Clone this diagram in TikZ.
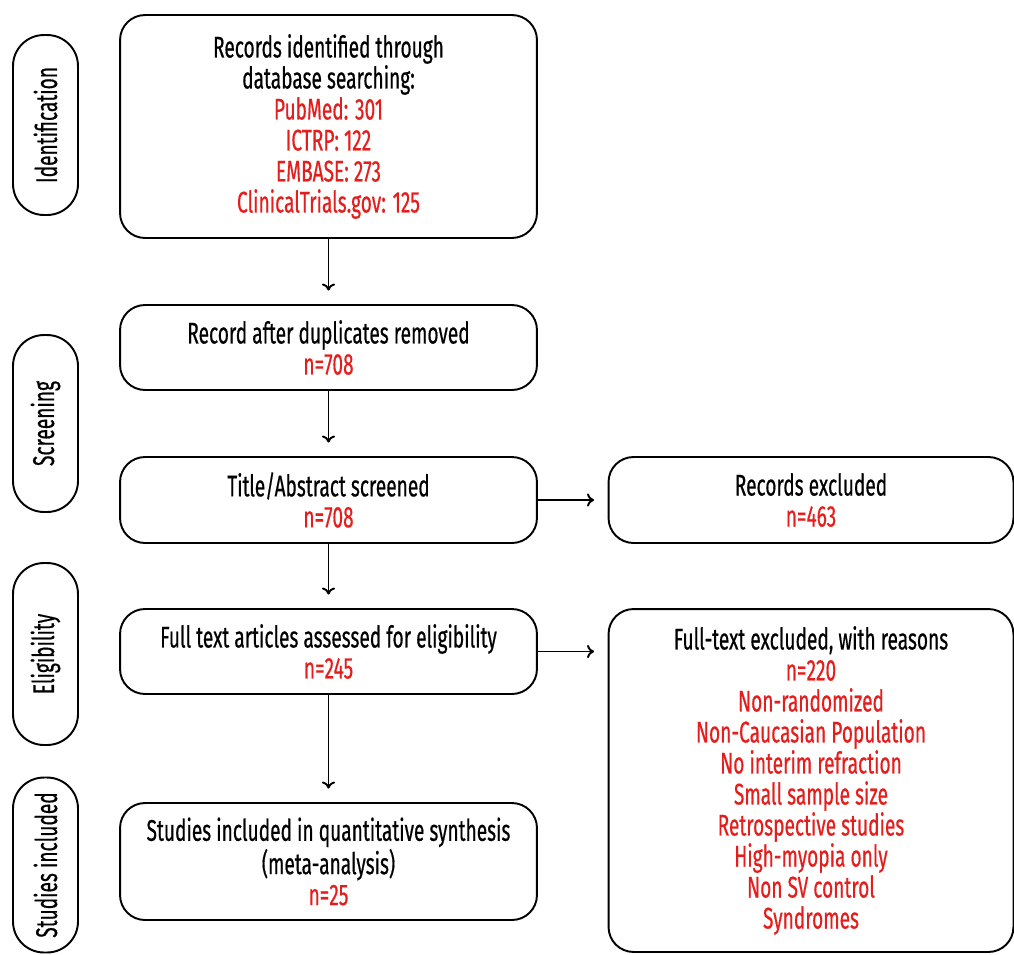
\documentclass[tikz,border=0pt]{standalone}
\usepackage{fontspec}
\setmainfont{Fira Sans}[FakeStretch=0.64, UprightFeatures={FakeBold=0.5}]
\usetikzlibrary{arrows.meta}
\definecolor{countred}{RGB}{228,30,28}

\begin{document}
\begin{tikzpicture}[x=0.02cm, y=-0.02cm,
    box/.style={draw, line width=1.1pt, rounded corners=0.5cm, align=center,
        inner sep=0pt, font=\fontsize{17}{17.65}\selectfont},
    stage/.style={draw, line width=1.1pt, rounded corners=0.62cm, rotate=90,
        minimum height=1.3cm, inner sep=0pt, font=\fontsize{17}{17.65}\selectfont},
    flow/.style={-{To[length=4pt,width=7.5pt]}, line width=1.1pt, shorten >=0.27cm}]

    \useasboundingbox (0,0) rectangle (1014,954);

    % stages on the left
    \node[stage, minimum width=3.6cm]  (ident) at (45.5,125)   {Identification};
    \node[stage, minimum width=3.54cm] (scren) at (45.5,423.5) {Screening};
    \node[stage, minimum width=3.64cm] (elig)  at (45.5,654)   {Eligibility};
    \node[stage, minimum width=3.5cm]  (incl)  at (45.5,865)   {Studies included};

    % main column
    \node[box, minimum width=8.34cm, minimum height=4.46cm] (records) at (328.5,126.5)
        {Records identified through\\ database searching:\\
         \textcolor{countred}{PubMed: 301}\\ \textcolor{countred}{ICTRP: 122}\\
         \textcolor{countred}{EMBASE: 273}\\ \textcolor{countred}{ClinicalTrials.gov: 125}};
    \node[box, minimum width=8.34cm, minimum height=1.7cm] (dedup) at (328.5,347.5)
        {Record after duplicates removed\\ \textcolor{countred}{n=708}};
    \node[box, minimum width=8.34cm, minimum height=1.72cm] (screen) at (328.5,500)
        {Title/Abstract screened\\ \textcolor{countred}{n=708}};
    \node[box, minimum width=8.34cm, minimum height=1.7cm] (fulltext) at (328.5,651.5)
        {Full text articles assessed for eligibility\\ \textcolor{countred}{n=245}};
    \node[box, minimum width=8.34cm, minimum height=2.34cm] (synth) at (328.5,861.5)
        {Studies included in quantitative synthesis\\ (meta-analysis)\\
         \textcolor{countred}{n=25}};

    % exclusions
    \node[box, minimum width=8.1cm, minimum height=1.72cm] (recex) at (811,500)
        {Records excluded\\ \textcolor{countred}{n=463}};
    \node[box, minimum width=8.1cm, minimum height=6.86cm] (ftex) at (811,780.5)
        {Full-text excluded, with reasons\\
         \textcolor{countred}{n=220}\\
         \textcolor{countred}{Non-randomized}\\
         \textcolor{countred}{Non-Caucasian Population}\\
         \textcolor{countred}{No interim refraction}\\
         \textcolor{countred}{Small sample size}\\
         \textcolor{countred}{Retrospective studies}\\
         \textcolor{countred}{High-myopia only}\\
         \textcolor{countred}{Non SV control}\\
         \textcolor{countred}{Syndromes}};

    \draw[flow] (records) -- (dedup);
    \draw[flow] (dedup) -- (screen);
    \draw[flow] (screen) -- (fulltext);
    \draw[flow] (fulltext) -- (synth);
    \draw[flow] (screen) -- (recex);
    \draw[flow] (fulltext) -- (fulltext -| ftex.west);
\end{tikzpicture}
\end{document}
